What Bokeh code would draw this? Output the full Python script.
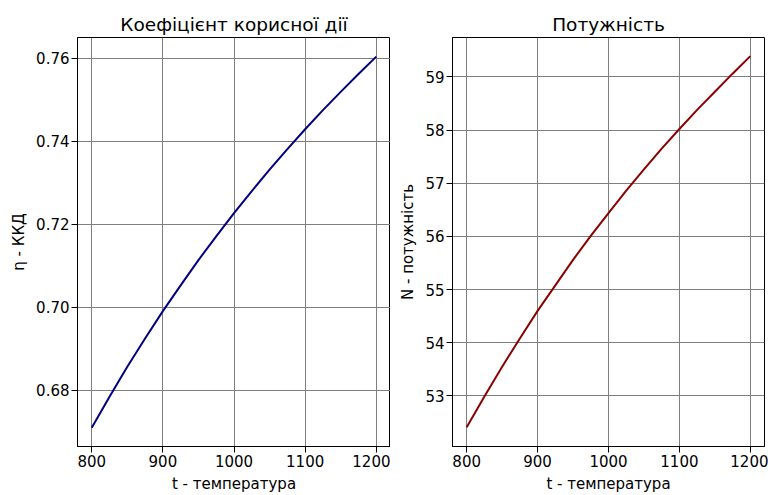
from bokeh.plotting import figure
from bokeh.layouts import row
from bokeh.models import FixedTicker, PrintfTickFormatter, Range1d
from bokeh.embed import file_html
from bokeh.resources import INLINE

# Data
t = [800, 825, 850, 875, 900, 925, 950, 975, 1000, 1025, 1050, 1075, 1100, 1125, 1150, 1175, 1200]
eta = [0.6710, 0.6785, 0.6857, 0.6925, 0.6991, 0.7053, 0.7114, 0.7171, 0.7227,
       0.7280, 0.7332, 0.7381, 0.7429, 0.7475, 0.7519, 0.7562, 0.7604]
power = [52.41, 52.99, 53.55, 54.08, 54.60, 55.08, 55.56, 56.01, 56.44,
         56.86, 57.26, 57.65, 58.02, 58.38, 58.72, 59.06, 59.39]

x_ticks = [800, 900, 1000, 1100, 1200]
eta_ticks = [0.68, 0.70, 0.72, 0.74, 0.76]
power_ticks = [53, 54, 55, 56, 57, 58, 59]

titles = ["Коефіцієнт корисної дії", "Потужність"]
x_label = "t - температура"
y_labels = ["η - ККД", "N - потужність"]

FONT = "DejaVu Sans"


def style(p, title_text):
    p.title.text = title_text
    p.title.text_font = FONT
    p.title.text_font_size = "18.5px"
    p.title.text_font_style = "normal"
    p.title.align = "center"
    p.title.text_color = "black"
    p.title.standoff = 5
    p.outline_line_color = "black"
    p.outline_line_width = 1
    p.outline_line_alpha = 1
    p.background_fill_color = "white"
    p.border_fill_color = "white"
    for ax in [p.xaxis[0], p.yaxis[0]]:
        ax.axis_label_text_font = FONT
        ax.axis_label_text_font_size = "15px"
        ax.axis_label_text_font_style = "normal"
        ax.axis_label_text_color = "black"
        ax.major_label_text_font = FONT
        ax.major_label_text_font_size = "15px"
        ax.major_label_text_color = "black"
        ax.major_tick_out = 6
        ax.major_tick_in = 0
        ax.minor_tick_out = 0
        ax.minor_tick_in = 0
        ax.major_tick_line_color = "black"
        ax.axis_line_color = "black"
        ax.major_label_standoff = 2
        ax.axis_label_standoff = 5
    for g in [p.xgrid[0], p.ygrid[0]]:
        g.grid_line_color = "#7f7f7f"
        g.grid_line_width = 1
        g.grid_line_alpha = 1


p1 = figure(width=390, height=495, output_backend="svg", toolbar_location=None,
            x_range=Range1d(780, 1220), y_range=Range1d(0.6665, 0.765),
            min_border_left=77, min_border_right=0, min_border_top=37, min_border_bottom=48)
p1.line(t, eta, line_color="#000080", line_width=2)
style(p1, titles[0])
p1.xaxis.ticker = FixedTicker(ticks=x_ticks)
p1.yaxis.ticker = FixedTicker(ticks=eta_ticks)
p1.yaxis.formatter = PrintfTickFormatter(format="%.2f")
p1.xaxis.axis_label = x_label
p1.yaxis.axis_label = y_labels[0]

p2 = figure(width=378, height=495, output_backend="svg", toolbar_location=None,
            x_range=Range1d(780, 1220), y_range=Range1d(52.05, 59.74),
            min_border_left=62, min_border_right=4, min_border_top=37, min_border_bottom=48)
p2.line(t, power, line_color="#8b0000", line_width=2)
style(p2, titles[1])
p2.xaxis.ticker = FixedTicker(ticks=x_ticks)
p2.yaxis.ticker = FixedTicker(ticks=power_ticks)
p2.xaxis.axis_label = x_label
p2.yaxis.axis_label = y_labels[1]

layout = row(p1, p2)
open("out.html", "w").write(file_html(layout, INLINE))
